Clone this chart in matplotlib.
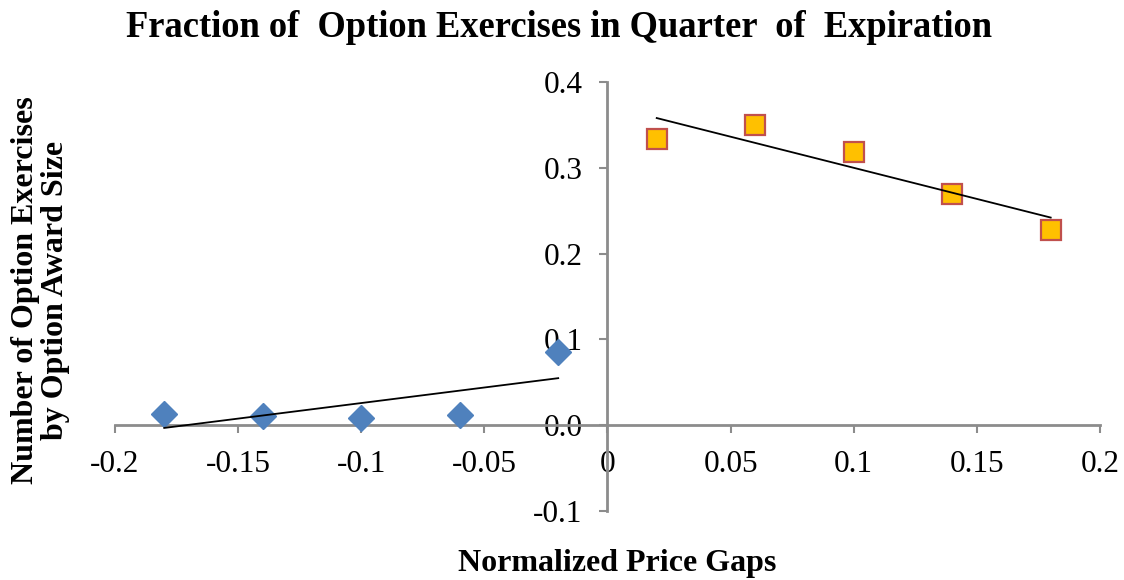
import numpy as np
import matplotlib
matplotlib.use("Agg")
import matplotlib.pyplot as plt

# ─── data ─────────────────────────────────────────────────────
gap_below = [-0.18, -0.14, -0.10, -0.06, -0.02]
frac_below = [0.013, 0.011, 0.008, 0.012, 0.085]
gap_above = [0.02, 0.06, 0.10, 0.14, 0.18]
frac_above = [0.333, 0.350, 0.319, 0.270, 0.228]

x_ticks = [-0.2, -0.15, -0.1, -0.05, 0, 0.05, 0.1, 0.15, 0.2]
x_labels = ['-0.2', '-0.15', '-0.1', '-0.05', '0', '0.05', '0.1', '0.15', '0.2']
y_ticks = [-0.1, 0.0, 0.1, 0.2, 0.3, 0.4]
y_labels = ['-0.1', '0.0', '0.1', '0.2', '0.3', '0.4']

# ─── styles ───────────────────────────────────────────────────
plt.rcParams['font.family'] = ['Liberation Serif', 'DejaVu Serif']
axis_gray = '#8c8c8c'

fig = plt.figure(figsize=(11.24, 5.8), dpi=100)
ax = fig.add_axes([0.1023, 0.119, 0.8763, 0.7396])

# markers
ax.plot(gap_below, frac_below, linestyle='none', marker='D', markersize=13,
        color='#4F81BD', markeredgecolor='#4F81BD', zorder=3, clip_on=False)
ax.plot(gap_above, frac_above, linestyle='none', marker='s', markersize=14,
        markerfacecolor='#FFC000', markeredgecolor='#C0504D',
        markeredgewidth=1.6, zorder=3, clip_on=False)

# linear trend lines
for gx, fy in ((gap_below, frac_below), (gap_above, frac_above)):
    k, b = np.polyfit(gx, fy, 1)
    xs = np.array([gx[0], gx[-1]])
    ax.plot(xs, k * xs + b, color='black', lw=1.3, zorder=4)

ax.set_xlim(-0.2, 0.2)
ax.set_ylim(-0.1, 0.4)

# axes crossing at zero
ax.spines['left'].set_position(('data', 0))
ax.spines['bottom'].set_position(('data', 0))
ax.spines['top'].set_visible(False)
ax.spines['right'].set_visible(False)
for s in ('left', 'bottom'):
    ax.spines[s].set_color(axis_gray)
    ax.spines[s].set_linewidth(2)

ax.set_xticks(x_ticks)
ax.set_xticklabels(x_labels)
ax.set_yticks(y_ticks)
ax.set_yticklabels(y_labels)
ax.tick_params(axis='both', direction='out', length=6, width=1.5,
               color=axis_gray, labelsize=22.5, labelcolor='black')
ax.tick_params(axis='x', pad=12)
ax.tick_params(axis='y', pad=12)

fig.text(0.497, 0.952, 'Fraction of  Option Exercises in Quarter  of  Expiration',
         ha='center', va='center', fontsize=26.3, fontweight='bold')
fig.text(0.549, 0.029, 'Normalized Price Gaps', ha='center', va='center',
         fontsize=23, fontweight='bold')
fig.text(0.036, 0.50, 'Number of Option Exercises\nby Option Award Size',
         ha='center', va='center', rotation=90, fontsize=23,
         fontweight='bold', linespacing=1.05)

fig.savefig('out.png', dpi=100)
